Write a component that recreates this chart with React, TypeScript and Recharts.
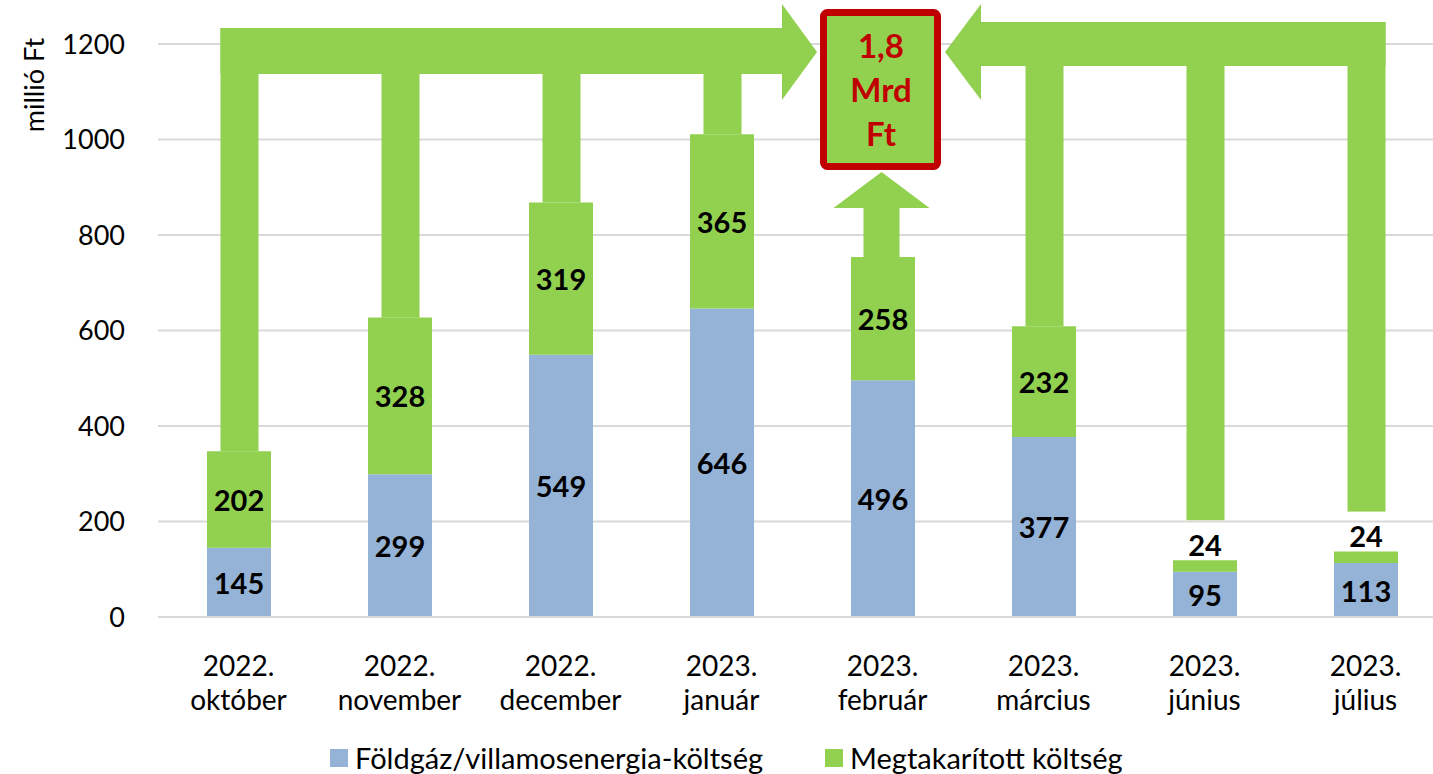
import React from 'react';
import { ComposedChart, Bar, XAxis, YAxis, CartesianGrid, LabelList } from 'recharts';

const categories = [
  '2022. október',
  '2022. november',
  '2022. december',
  '2023. január',
  '2023. február',
  '2023. március',
  '2023. június',
  '2023. július',
];
const energyCost = [145, 299, 549, 646, 496, 377, 95, 113];
const savedCost = [202, 328, 319, 365, 258, 232, 24, 24];
const yTicks = [0, 200, 400, 600, 800, 1000, 1200];
const totalLabel = ['1,8', 'Mrd', 'Ft'];

// which bars feed the left / right arrow, and which one points straight up
const leftGroup = [0, 1, 2, 3];
const upGroup = [4];
const rightGroup = [5, 6, 7];

const BLUE = '#95B3D7';
const GREEN = '#92D050';
const RED = '#C00000';
const FONT = 'Lato, "Open Sans", sans-serif';

// chart geometry (must match the margins below)
const CHART_W = 1446;
const CHART_H = 774;
const PLOT_LEFT = 158;
const PLOT_TOP = 44;
const PLOT_BOTTOM = 617;
const Y_MAX = 1200;
const PLOT_W = CHART_W - PLOT_LEFT;

const data = categories.map((c, i) => ({
  name: c,
  energy: energyCost[i],
  saved: savedCost[i],
}));

const yPx = (v: number) => PLOT_TOP + (PLOT_BOTTOM - PLOT_TOP) * (1 - v / Y_MAX);
const xMid = (i: number) => PLOT_LEFT + (i + 0.5) * (PLOT_W / categories.length);
const total = (i: number) => energyCost[i] + savedCost[i];

const CategoryTick = ({ x, y, payload }: any) => {
  const [year, month] = String(payload.value).split(' ');
  return (
    <text x={x} y={y} textAnchor="middle" fontFamily={FONT} fontSize={28} fill="#000">
      <tspan x={x} dy={51}>{year}</tspan>
      <tspan x={x} dy={34}>{month}</tspan>
    </text>
  );
};

const InsideLabel = (props: any) => {
  const { x, y, width, height, value } = props;
  const small = height < 30;
  const cy = small ? y - 16 : y + height / 2;
  return (
    <text
      x={x + width / 2}
      y={cy}
      textAnchor="middle"
      dominantBaseline="central"
      fontFamily={FONT}
      fontWeight={700}
      fontSize={29}
      fill="#000"
    >
      {value}
    </text>
  );
};

function Arrows() {
  const shaftL = 18;
  const shaftR = 20;
  const shapes: React.ReactNode[] = [];

  // left band + arrow head pointing right
  const lBandTop = 28;
  const lBandBottom = 74;
  const lStart = xMid(leftGroup[0]) - shaftL;
  shapes.push(
    <polygon
      key="lband"
      points={`${lStart},${lBandTop} 782,${lBandTop} 782,4 817,52 782,100 782,${lBandBottom} ${lStart},${lBandBottom}`}
      fill={GREEN}
    />
  );
  leftGroup.forEach((i) => {
    shapes.push(
      <rect key={`ls${i}`} x={xMid(i) - shaftL} y={lBandTop} width={shaftL + shaftR} height={yPx(total(i)) - lBandTop} fill={GREEN} />
    );
  });

  // right band + arrow head pointing left
  const rBandTop = 22;
  const rBandBottom = 66;
  const rEnd = xMid(rightGroup[rightGroup.length - 1]) + shaftR;
  shapes.push(
    <polygon
      key="rband"
      points={`${rEnd},${rBandTop} 981,${rBandTop} 981,4 945,52 981,100 981,${rBandBottom} ${rEnd},${rBandBottom}`}
      fill={GREEN}
    />
  );
  rightGroup.forEach((i) => {
    // small bars carry their label above, so the shaft stops short of it
    const bottom = savedCost[i] < 50 ? yPx(total(i)) - 40 : yPx(total(i));
    shapes.push(
      <rect key={`rs${i}`} x={xMid(i) - shaftL} y={rBandTop} width={shaftL + shaftR} height={bottom - rBandTop} fill={GREEN} />
    );
  });

  // February: straight up into the box
  upGroup.forEach((i) => {
    const cx = xMid(i) - 1;
    const top = yPx(total(i));
    shapes.push(
      <polygon
        key={`up${i}`}
        points={`${cx - 18},${top} ${cx - 18},208 ${cx - 48},208 ${cx},172 ${cx + 48},208 ${cx + 18},208 ${cx + 18},${top}`}
        fill={GREEN}
      />
    );
  });

  return (
    <svg
      width={CHART_W}
      height={CHART_H}
      style={{ position: 'absolute', left: 0, top: 0, pointerEvents: 'none' }}
    >
      {shapes}
      <rect x={823.5} y={12.5} width={114} height={154} rx={4} fill={GREEN} stroke={RED} strokeWidth={7} />
      {totalLabel.map((t, k) => (
        <text
          key={t}
          x={881}
          y={45 + k * 44}
          textAnchor="middle"
          dominantBaseline="central"
          fontFamily={FONT}
          fontWeight={700}
          fontSize={33}
          fill={RED}
        >
          {t}
        </text>
      ))}
      <text
        x={33}
        y={85}
        transform="rotate(-90 33 85)"
        textAnchor="middle"
        dominantBaseline="central"
        fontFamily={FONT}
        fontSize={27}
        fill="#000"
      >
        millió Ft
      </text>
    </svg>
  );
}

export default function App() {
  return (
    <div
      style={{
        position: 'fixed',
        left: 0,
        top: 0,
        width: 1433,
        height: 774,
        overflow: 'hidden',
        background: '#fff',
        fontFamily: FONT,
      }}
    >
      <div style={{ position: 'relative', width: CHART_W, height: CHART_H }}>
        <ComposedChart
          width={CHART_W}
          height={CHART_H}
          data={data}
          margin={{ top: PLOT_TOP, right: 0, bottom: 0, left: 0 }}
          barSize={64}
        >
          <CartesianGrid vertical={false} stroke="#D9D9D9" strokeWidth={2} />
          <XAxis
            dataKey="name"
            height={CHART_H - PLOT_BOTTOM}
            axisLine={{ stroke: '#D9D9D9', strokeWidth: 2 }}
            tickLine={false}
            interval={0}
            tick={<CategoryTick />}
          />
          <YAxis
            width={PLOT_LEFT}
            domain={[0, Y_MAX]}
            ticks={yTicks}
            axisLine={false}
            tickLine={false}
            tickSize={0}
            tickMargin={33}
            tick={{ fontFamily: FONT, fontSize: 27, fill: '#000' }}
          />
          <Bar dataKey="energy" stackId="a" fill={BLUE} isAnimationActive={false}>
            <LabelList dataKey="energy" content={<InsideLabel />} />
          </Bar>
          <Bar dataKey="saved" stackId="a" fill={GREEN} isAnimationActive={false}>
            <LabelList dataKey="saved" content={<InsideLabel />} />
          </Bar>
        </ComposedChart>
        <Arrows />
      </div>
      <div
        style={{
          position: 'absolute',
          left: 330,
          top: 743,
          height: 30,
          lineHeight: '30px',
          display: 'flex',
          alignItems: 'center',
          fontSize: 29,
          color: '#000',
          whiteSpace: 'nowrap',
        }}
      >
        <span style={{ width: 18, height: 18, background: BLUE, display: 'inline-block', marginRight: 7 }} />
        <span>Földgáz/villamosenergia-költség</span>
        <span style={{ width: 18, height: 18, background: GREEN, display: 'inline-block', marginLeft: 62, marginRight: 7 }} />
        <span>Megtakarított költség</span>
      </div>
    </div>
  );
}
